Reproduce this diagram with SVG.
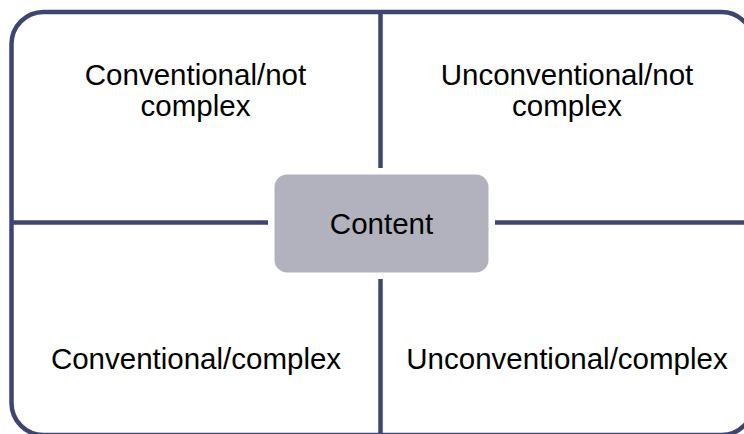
<svg xmlns="http://www.w3.org/2000/svg" width="744" height="434" viewBox="0 0 744 434">
<style>
.frame{fill:none;stroke:#404470;stroke-width:4.5}
.div{stroke:#404470;stroke-width:4.5;fill:none}
.lbl{font-family:"Liberation Sans",Arial,sans-serif;font-size:29.5px;fill:#000;text-anchor:middle}
.box{fill:#B2B2BE;stroke:#FFFFFF;stroke-width:5}
</style>
<rect width="744" height="434" fill="#FFFFFF"/>
<g id="frame"><rect class="frame" x="11.5" y="12" width="742" height="423" rx="32" ry="32"/></g>
<g id="connectors">
<line class="div" x1="380.5" y1="12" x2="380.5" y2="168"/>
<line class="div" x1="380.5" y1="279" x2="380.5" y2="436"/>
<line class="div" x1="11.5" y1="222.5" x2="268" y2="222.5"/>
<line class="div" x1="495" y1="222.5" x2="746" y2="222.5"/>
</g>
<g id="q-top-left"><text class="lbl" x="195.5" y="85">Conventional/not</text><text class="lbl" x="195.5" y="116">complex</text></g>
<g id="q-top-right"><text class="lbl" x="567" y="85">Unconventional/not</text><text class="lbl" x="567" y="116">complex</text></g>
<g id="q-bottom-left"><text class="lbl" x="196" y="369">Conventional/complex</text></g>
<g id="q-bottom-right"><text class="lbl" x="567" y="369">Unconventional/complex</text></g>
<g id="content"><rect class="box" x="272" y="172" width="219" height="103" rx="15" ry="15"/><text class="lbl" x="381.5" y="234">Content</text></g>
</svg>
